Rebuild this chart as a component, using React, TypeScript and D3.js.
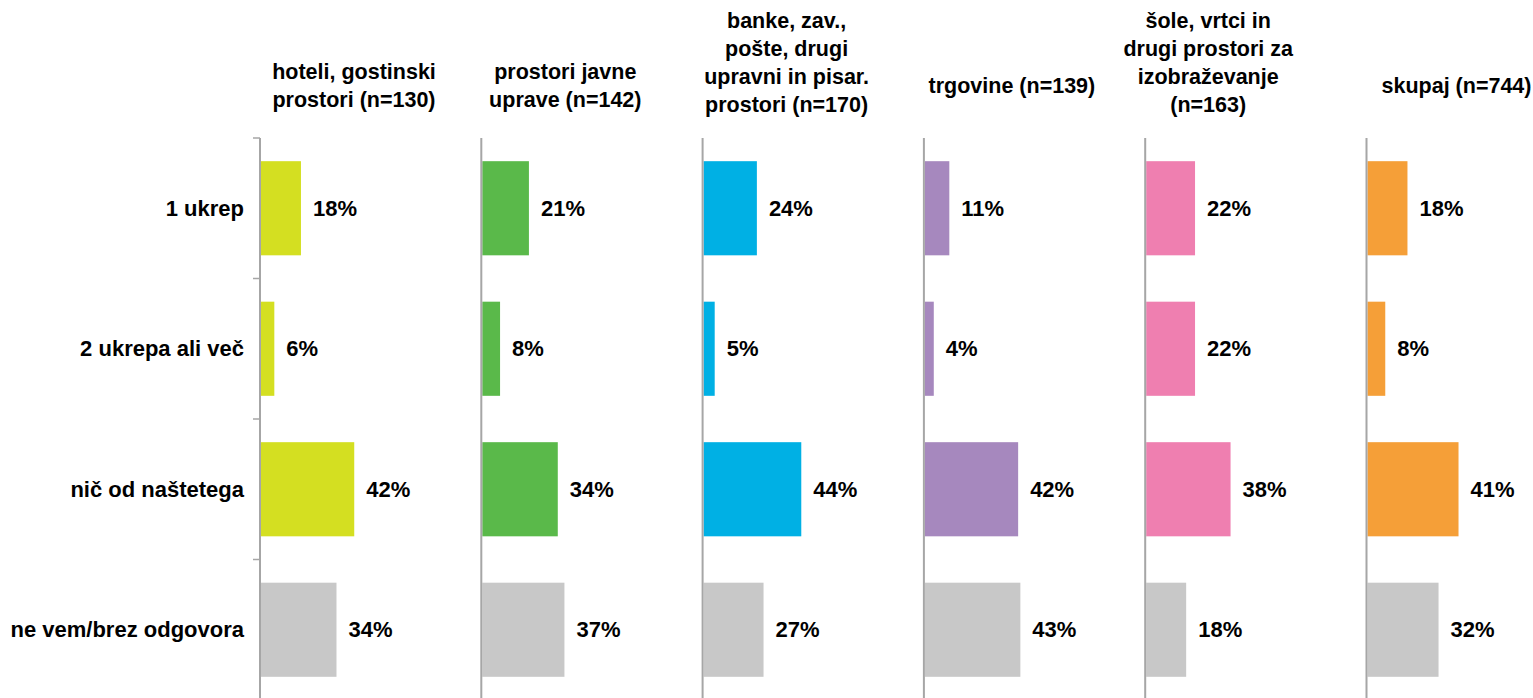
import React, { useEffect } from "react";
import * as d3 from "d3";

const categories = ["1 ukrep", "2 ukrepa ali več", "nič od naštetega", "ne vem/brez odgovora"];

const panelTitles = [
  ["hoteli, gostinski", "prostori (n=130)"],
  ["prostori javne", "uprave (n=142)"],
  ["banke, zav.,", "pošte, drugi", "upravni in pisar.", "prostori (n=170)"],
  ["trgovine (n=139)"],
  ["šole, vrtci in", "drugi prostori za", "izobraževanje", "(n=163)"],
  ["skupaj (n=744)"],
];

const hoteli = [18, 6, 42, 34];
const javnaUprava = [21, 8, 34, 37];
const banke = [24, 5, 44, 27];
const trgovine = [11, 4, 42, 43];
const sole = [22, 22, 38, 18];
const skupaj = [18, 8, 41, 32];

const seriesValues = [hoteli, javnaUprava, banke, trgovine, sole, skupaj];
const panelColors = ["#d4df21", "#5ab94a", "#00b0e4", "#a688be", "#ef7fb0", "#f59f38"];
const greyColor = "#c8c8c8";

// title centre offset from each panel's axis
const titleDx = [94, 84, 84, 88, 63, 90];

const App = () => {
  useEffect(() => {
    document.body.style.margin = "0";
  }, []);

  const width = 1533;
  const height = 698;
  const firstAxis = 260;
  const panelStep = 221.3;
  const font = "'Liberation Sans', Arial, sans-serif";

  const y = d3
    .scaleBand<string>()
    .domain(categories)
    .range([138, 700])
    .paddingInner(0.33)
    .paddingOuter(0.165);

  const x = d3.scaleLinear().domain([0, 100]).range([0, 222]);

  const bandTicks = d3.range(categories.length + 1).map((i) => 138 + i * 140.5);
  const lh = 28;

  return (
    <svg width={width} height={height} style={{ display: "block" }} fontFamily={font} fontWeight="bold">
      {/* category labels */}
      {categories.map((c) => (
        <text
          key={c}
          x={244}
          y={(y(c) as number) + y.bandwidth() / 2}
          dy="0.35em"
          textAnchor="end"
          fontSize={22}
          fill="#000"
        >
          {c}
        </text>
      ))}
      {/* ticks on first axis */}
      {bandTicks.map((t, i) => (
        <line key={i} x1={253} x2={260} y1={t} y2={t} stroke="#a6a6a6" strokeWidth={1.5} />
      ))}
      {seriesValues.map((vals, p) => {
        const x0 = firstAxis + p * panelStep;
        const lines = panelTitles[p];
        const n = lines.length;
        const firstLine = Math.min(85 - ((n - 1) * lh) / 2, 104 - (n - 1) * lh);
        return (
          <g key={p}>
            {lines.map((l, k) => (
              <text
                key={k}
                x={x0 + titleDx[p]}
                y={firstLine + k * lh}
                dy="0.35em"
                textAnchor="middle"
                fontSize={21.5}
                fill="#000"
              >
                {l}
              </text>
            ))}
            {vals.map((v, i) => {
              const c = categories[i];
              const by = y(c) as number;
              const color = i === categories.length - 1 ? greyColor : panelColors[p];
              return (
                <g key={c}>
                  <rect x={x0 + 1} y={by} width={x(v)} height={y.bandwidth()} fill={color} />
                  <text
                    x={x0 + 1 + x(v) + 12}
                    y={by + y.bandwidth() / 2}
                    dy="0.35em"
                    fontSize={22}
                    fill="#000"
                  >
                    {v}%
                  </text>
                </g>
              );
            })}
            <line x1={x0} x2={x0} y1={138} y2={height} stroke="#a6a6a6" strokeWidth={2} />
          </g>
        );
      })}
    </svg>
  );
};

export default App;
